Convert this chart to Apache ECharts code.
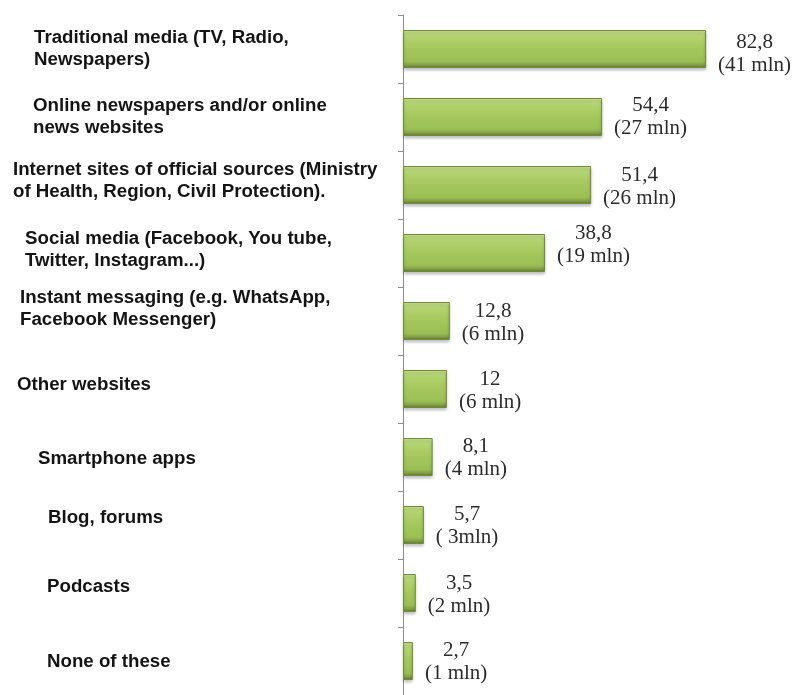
<!DOCTYPE html>
<html>
<head>
<meta charset="utf-8">
<script src="https://cdn.jsdelivr.net/npm/echarts@6/dist/echarts.min.js"></script>
<style>
  html, body { margin: 0; padding: 0; background: #ffffff; }
  #chart { width: 796px; height: 695px; }
</style>
</head>
<body>
<div id="chart"></div>
<script>
// Information sources used, share of respondents (%) and estimated audience
const categories = [
  'Traditional media (TV, Radio,\nNewspapers)',
  'Online newspapers and/or online\nnews websites',
  'Internet sites of official sources (Ministry\nof Health, Region, Civil Protection).',
  'Social media (Facebook, You tube,\nTwitter, Instagram...)',
  'Instant messaging (e.g. WhatsApp,\nFacebook Messenger)',
  'Other websites',
  'Smartphone apps',
  'Blog, forums',
  'Podcasts',
  'None of these'
];
const shares = [82.8, 54.4, 51.4, 38.8, 12.8, 12, 8.1, 5.7, 3.5, 2.7];
const audience = ['(41 mln)', '(27 mln)', '(26 mln)', '(19 mln)', '(6 mln)', '(6 mln)', '(4 mln)', '( 3mln)', '(2 mln)', '(1 mln)'];

// Layout tweaks for the category captions (left indent in px, upward lift in px; negative = down)
const labelIndent = [34, 33, 13, 25, 20, 17, 38, 48, 47, 47];
const labelLift = [0, 0, 4, 3, 12, 4, -2, 7, 6, -1];
// Vertical nudge of the value captions
const valueShift = [5, 0, 2, -8, 2, 2, 1, 1, 2, 1];

const AXIS_X = 403;
const LABEL_BASE = 13;

const chart = echarts.init(document.getElementById('chart'), null, { renderer: 'canvas' });

const barFill = new echarts.graphic.LinearGradient(0, 0, 0, 1, [
  { offset: 0, color: '#d3e6a0' },
  { offset: 0.12, color: '#b6d574' },
  { offset: 0.45, color: '#a6c85e' },
  { offset: 0.82, color: '#9bbf55' },
  { offset: 0.92, color: '#829f45' },
  { offset: 1, color: '#5f7136' }
]);

// Rich styles: one for caption text, one spacer per category that shifts the caption
const captionRich = {
  t: {
    fontFamily: '"Liberation Sans", Arial, sans-serif',
    fontWeight: 'bold',
    fontSize: 18.7,
    lineHeight: 22,
    color: '#141414'
  }
};
labelLift.forEach((lift, i) => {
  const h = Math.max(1, 2 * Math.abs(lift));
  captionRich['s' + i] = { fontSize: 1, lineHeight: h, height: h };
});

const option = {
  backgroundColor: '#ffffff',
  animation: false,
  grid: {
    left: AXIS_X, right: 796 - AXIS_X - 366, top: 15, bottom: 0,
    containLabel: false, outerBoundsMode: 'none'
  },
  xAxis: { type: 'value', min: 0, max: 100, show: false },
  yAxis: {
    type: 'category',
    inverse: true,
    data: categories.map((c, i) => ({
      value: c,
      textStyle: {
        align: 'left',
        padding: [0, 0, 0, labelIndent[i] - LABEL_BASE]
      }
    })),
    axisLine: { show: true, lineStyle: { color: '#8f8f8f', width: 1 } },
    axisTick: { show: true, length: 5, inside: false, lineStyle: { color: '#8f8f8f' } },
    splitLine: { show: false },
    axisLabel: {
      align: 'left',
      margin: AXIS_X - LABEL_BASE,
      formatter: (value, index) => {
        const body = value.split('\n').map(l => '{t|' + l + '}').join('\n');
        const lift = labelLift[index];
        if (lift > 0) return body + '\n{s' + index + '| }';
        if (lift < 0) return '{s' + index + '| }\n' + body;
        return body;
      },
      rich: captionRich
    }
  },
  series: [{
    type: 'bar',
    barWidth: 38,
    data: shares.map((v, i) => ({
      value: v,
      label: { offset: [0, valueShift[i]] }
    })),
    itemStyle: {
      color: barFill,
      borderColor: '#6f8c3a',
      borderWidth: 1,
      shadowColor: 'rgba(0,0,0,0.25)',
      shadowBlur: 3,
      shadowOffsetY: 2
    },
    label: {
      show: true,
      position: 'right',
      distance: 12,
      formatter: p => '{v|' + String(p.value).replace('.', ',') + '}\n{v|' + audience[p.dataIndex] + '}',
      rich: {
        v: {
          align: 'center',
          fontFamily: '"Liberation Serif", "Times New Roman", serif',
          fontSize: 21,
          lineHeight: 23,
          color: '#2b2b2b'
        }
      }
    }
  }]
};

chart.setOption(option);
</script>
</body>
</html>
